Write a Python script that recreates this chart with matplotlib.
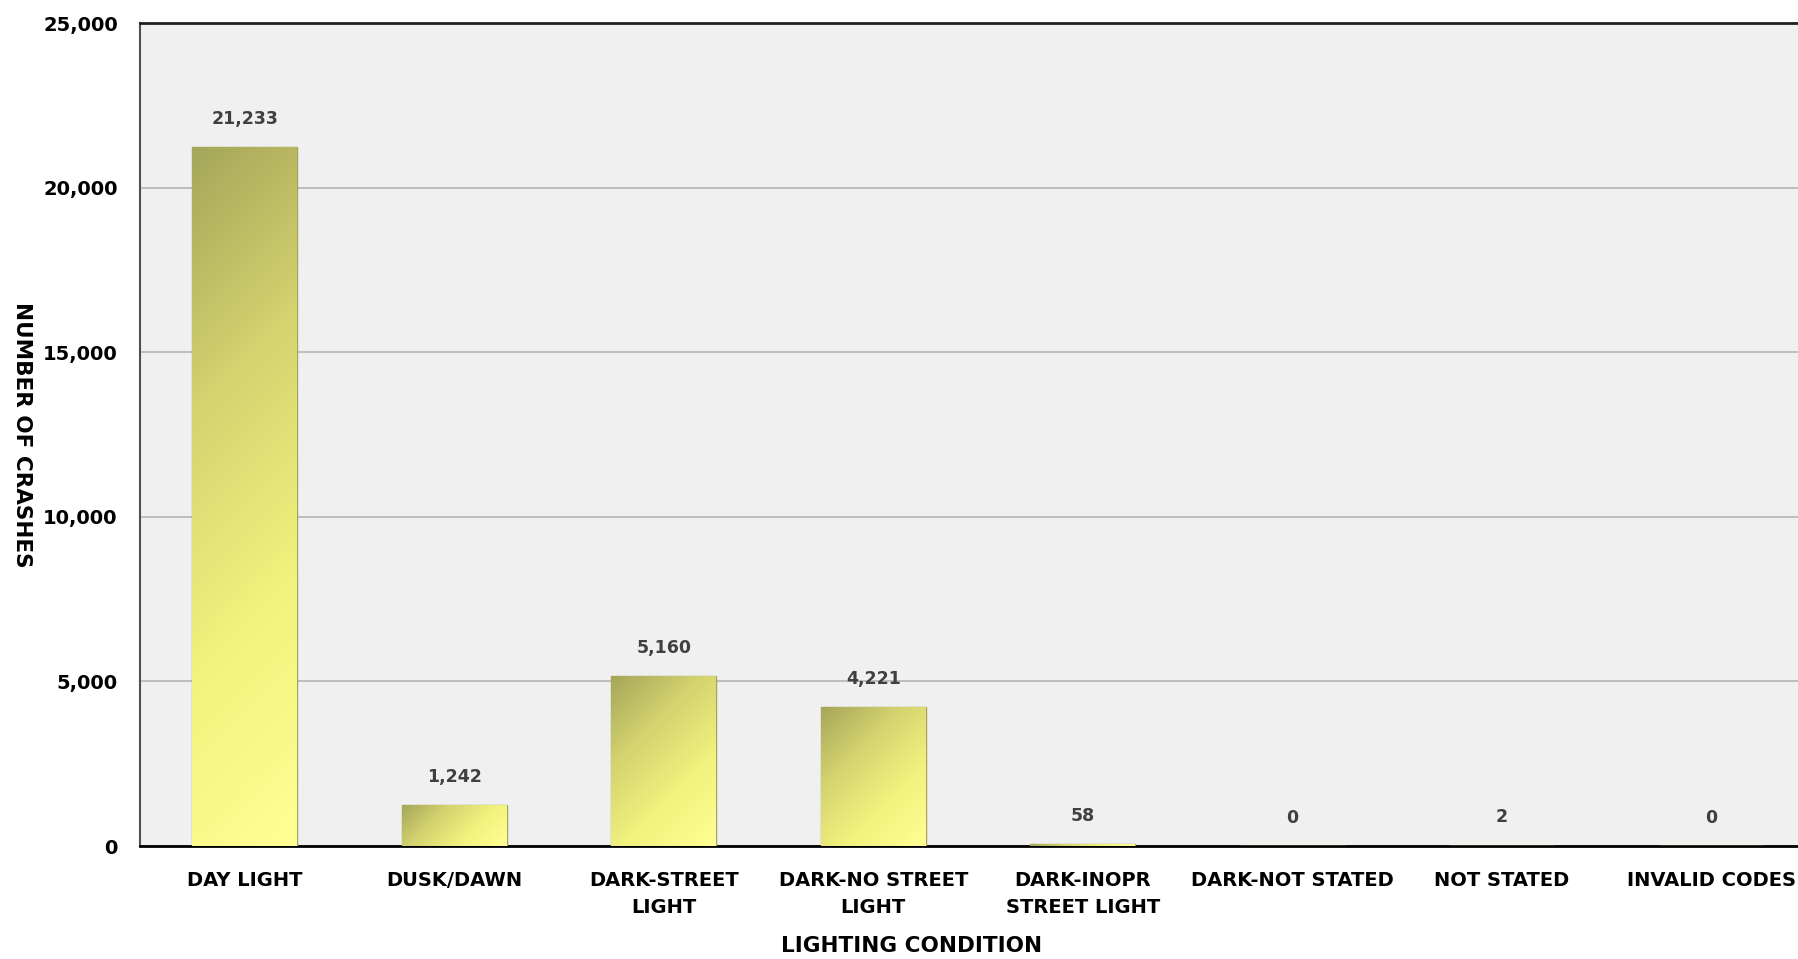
import matplotlib.pyplot as plt
import matplotlib.colors as mcolors
import numpy as np

# crashes by lighting condition
categories = ['DAY LIGHT', 'DUSK/DAWN', 'DARK-STREET\nLIGHT', 'DARK-NO STREET\nLIGHT',
              'DARK-INOPR\nSTREET LIGHT', 'DARK-NOT STATED', 'NOT STATED', 'INVALID CODES']
crashes = [21233, 1242, 5160, 4221, 58, 0, 2, 0]
y_ticks = [0, 5000, 10000, 15000, 20000, 25000]

plt.rcParams['font.family'] = ['DejaVu Sans']

fig = plt.figure(figsize=(17.99, 9.59), dpi=100)
# axes runs past the right edge of the figure, like the cropped original
ax = fig.add_axes([140 / 1799, 1 - 846 / 959, (1816 - 140) / 1799, (846 - 23) / 959])
ax.set_facecolor('#f0f0f0')

x = np.arange(len(categories))
bars = ax.bar(x, crashes, width=0.5, color='#e8e87a', edgecolor='#a4a45c',
              linewidth=1.0, zorder=3)

ax.set_xlim(-0.5, len(categories) - 0.5)
ax.set_ylim(0, 25000)
ax.set_yticks(y_ticks)
ax.set_yticklabels([f'{v:,}' for v in y_ticks])
ax.set_xticks(x)
ax.set_xticklabels(categories, linespacing=1.55)
ax.tick_params(axis='both', length=0)
ax.tick_params(axis='y', pad=16)
ax.tick_params(axis='x', pad=18)
for lab in ax.get_xticklabels() + ax.get_yticklabels():
    lab.set_fontweight('bold')
    lab.set_fontsize(14)

ax.yaxis.grid(True, color='#b4b4b4', linewidth=1.2, zorder=0)
ax.set_axisbelow(True)

ax.spines['left'].set_color('#505050')
ax.spines['left'].set_linewidth(1.5)
ax.spines['bottom'].set_color('black')
ax.spines['bottom'].set_linewidth(2)
ax.spines['top'].set_color('#202020')
ax.spines['top'].set_linewidth(2)
ax.spines['right'].set_visible(False)

ax.set_xlabel('LIGHTING CONDITION', fontsize=15.5, fontweight='bold')
ax.xaxis.label.set_va('center')
ax.xaxis.set_label_coords(772 / 1676, -100 / 823)
ax.set_ylabel('NUMBER OF CRASHES', fontsize=15.5, fontweight='bold', rotation=270)
ax.yaxis.label.set_va('center')
ax.yaxis.set_label_coords(-118 / 1676, 0.5)

# diagonal gradient on each bar, dark olive top-left to pale yellow bottom-right
cmap = mcolors.LinearSegmentedColormap.from_list(
    'bevel', ['#a6a65a', '#d4d470', '#f2f27f', '#ffff94'])
fig.canvas.draw()
for b in bars:
    x0, y0 = b.get_x(), b.get_y()
    w, h = b.get_width(), b.get_height()
    if h <= 0:
        continue
    p0 = ax.transData.transform((x0, y0))
    p1 = ax.transData.transform((x0 + w, y0 + h))
    W, H = abs(p1[0] - p0[0]), abs(p1[1] - p0[1])
    u = np.linspace(0, 1, 120)[None, :]
    v = np.linspace(0, 1, 200)[:, None]
    t = (u * W + (1 - v) * H) / (W + H)
    img = ax.imshow(t, cmap=cmap, extent=[x0, x0 + w, y0, y0 + h], origin='lower',
                    aspect='auto', zorder=3.5, vmin=0, vmax=1, interpolation='bilinear')
    img.set_clip_path(b)

ax.set_xlim(-0.5, len(categories) - 0.5)
ax.set_ylim(0, 25000)

for xi, val in zip(x, crashes):
    ax.annotate(f'{val:,}', (xi, val), xytext=(0, 14), textcoords='offset points',
                ha='center', va='bottom', fontsize=12.5, fontweight='bold',
                color='#404040', zorder=5)

fig.savefig('out.png', dpi=100)
